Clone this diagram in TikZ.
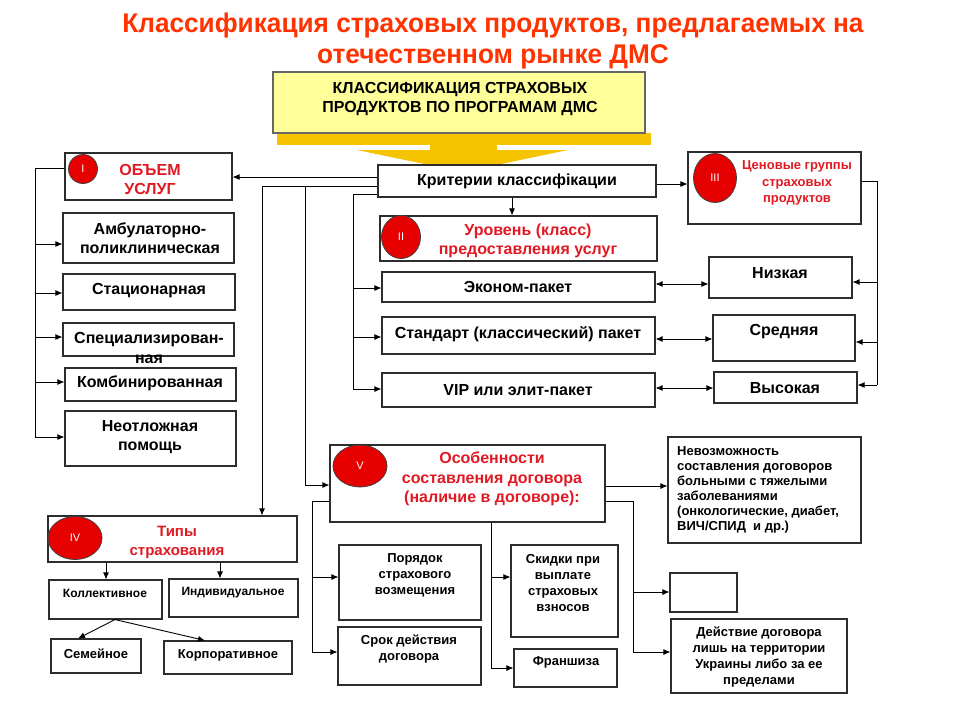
\documentclass[tikz,border=0pt]{standalone}
\usepackage{fontspec}
\setmainfont{Liberation Sans}
\usetikzlibrary{arrows.meta,shapes.geometric}
\definecolor{ttl}{RGB}{255,51,0}
\definecolor{rd}{RGB}{225,25,35}
\definecolor{circ}{RGB}{230,0,0}
\definecolor{yel}{RGB}{255,255,153}
\definecolor{goldc}{RGB}{245,195,0}
\definecolor{edge}{RGB}{45,45,45}
\newcommand\bx[6][]{\node[box,#1,minimum width={#4-#2},minimum height={#5-#3}] (#6) at ({(#2+#4)/2},{(#3+#5)/2}) {};}
\begin{document}
\begin{tikzpicture}[x=1pt,y=-1pt,
  box/.style={draw=edge,line width=1.1pt,fill=white,inner sep=0pt,rectangle},
  txt/.style={align=center,inner sep=0pt,font=\bfseries\fontsize{16}{19.5}\selectfont},
  stxt/.style={align=center,inner sep=0pt,font=\bfseries\fontsize{13}{16}\selectfont},
  rtxt/.style={align=center,inner sep=0pt,text=rd,font=\bfseries\fontsize{16}{19}\selectfont},
  ell/.style={ellipse,draw=black!75,line width=0.8pt,fill=circ,text=white,inner sep=0pt,font=\fontsize{11}{12}\selectfont},
  arr/.style={-{Latex[length=7pt,width=6pt]},line width=0.9pt},
  dbl/.style={{Latex[length=7pt,width=6pt]}-{Latex[length=7pt,width=6pt]},line width=0.9pt},
  ln/.style={line width=0.9pt}]
\useasboundingbox[fill=white] (0,0) rectangle (960,720);
% title
\node[text=ttl,font=\bfseries\fontsize{27}{30}\selectfont] (t1) at (493,26) {\scalebox{0.97}[1]{Классификация страховых продуктов, предлагаемых на}};
\node[text=ttl,font=\bfseries\fontsize{27}{30}\selectfont] (t2) at (493,57) {\scalebox{0.97}[1]{отечественном рынке ДМС}};
% yellow arrow
\fill[goldc] (277,133) rectangle (651,145);
\fill[goldc] (430,144) -- (430,150) -- (357,150) -- (463,172) -- (568,150) -- (497,150) -- (497,144) -- cycle;
\bx[fill=yel,draw=black!60]{273}{72}{645}{133}{ylw}
\node[txt] (ylwt) at (460,99) {КЛАССИФИКАЦИЯ СТРАХОВЫХ\\ПРОДУКТОВ ПО ПРОГРАМАМ ДМС};
% center column
\bx{378}{165}{656}{197}{krit}
\node[txt] (kritt) at (517,181) {Критерии классифікации};
\bx{380}{216}{657}{261}{lvl}
\node[ell,minimum width=39pt,minimum height=43pt] (c2) at (401,237) {II};
\node[rtxt] (lvlt) at (528,241) {Уровень (класс)\\предоставления услуг};
\bx{382}{272}{655}{302}{ekon}
\node[txt] (ekont) at (518,287) {Эконом-пакет};
\bx{382}{317}{655}{354}{stand}
\node[txt] (standt) at (518,334) {Стандарт (классический) пакет};
\bx{382}{373}{655}{407}{vip}
\node[txt] (vipt) at (518,390) {VIP или элит-пакет};
% left column
\bx{65}{153}{232}{200}{obj}
\node[ell,minimum width=29pt,minimum height=29pt] (c1) at (83,169) {I};
\node[rtxt] (objt) at (150,179) {ОБЪЕМ\\УСЛУГ};
\bx{63}{213}{234}{263}{amb}
\node[txt] (ambt) at (150,238) {Амбулаторно-\\поликлиническая};
\bx{63}{274}{235}{310}{stac}
\node[txt] (stact) at (149,291) {Стационарная};
\bx{63}{323}{234}{356}{spec}
\node[txt] (spect) at (149,348) {Специализирован-\\ная};
\bx{65}{368}{236}{401}{komb}
\node[txt] (kombt) at (150,383) {Комбинированная};
\bx{65}{411}{236}{466}{neot}
\node[txt] (neott) at (150,437) {Неотложная\\помощь};
% right column
\bx{688}{152}{861}{224}{cen}
\node[ell,minimum width=43pt,minimum height=49pt] (c3) at (715,178) {III};
\node[rtxt,font=\bfseries\fontsize{13}{16.5}\selectfont] (cent) at (797,183) {Ценовые группы\\страховых\\продуктов};
\bx{709}{257}{852}{298}{niz}
\node[txt] (nizt) at (780,273) {Низкая};
\bx{713}{315}{855}{361}{sred}
\node[txt] (sredt) at (784,332) {Средняя};
\bx{714}{372}{857}{403}{vys}
\node[txt] (vyst) at (785,388) {Высокая};
% bottom middle
\bx{330}{445}{605}{522}{osob}
\node[ell,minimum width=54pt,minimum height=42pt] (c5) at (360,466) {V};
\node[rtxt,font=\bfseries\fontsize{16}{19.5}\selectfont] (osobt) at (492,479) {Особенности\\составления договора\\(наличие в договоре):};
\bx{339}{545}{481}{620}{por}
\node[stxt] (port) at (415,575) {Порядок\\страхового\\возмещения};
\bx{338}{627}{481}{685}{srok}
\node[stxt] (srokt) at (409,649) {Срок действия\\договора};
\bx{511}{545}{618}{637}{skid}
\node[stxt] (skidt) at (563,583) {Скидки при\\выплате\\страховых\\взносов};
\bx{514}{649}{617}{687}{fran}
\node[stxt] (frant) at (566,662) {Франшиза};
\bx{668}{437}{861}{543}{nevoz}
\node[stxt,align=left,anchor=west,font=\bfseries\fontsize{13}{15}\selectfont] (nevozt) at (677,490) {Невозможность\\составления договоров\\больными с тяжелыми\\заболеваниями\\(онкологические, диабет,\\ВИЧ/СПИД \ и др.)};
\bx{670}{573}{737}{612}{empt}
\bx{671}{619}{847}{693}{deist}
\node[stxt] (deistt) at (759,657) {Действие договора\\лишь на территории\\Украины либо за ее\\пределами};
% bottom left
\bx{48}{516}{297}{562}{tipy}
\node[ell,minimum width=54pt,minimum height=43pt] (c4) at (75,538) {IV};
\node[rtxt,font=\bfseries\fontsize{15}{19}\selectfont] (tipyt) at (177,542) {Типы\\страхования};
\bx{49}{580}{162}{619}{koll}
\node[stxt,font=\bfseries\fontsize{12}{14}\selectfont] (kollt) at (105,593) {Коллективное};
\bx{169}{579}{298}{617}{indiv}
\node[stxt,font=\bfseries\fontsize{12}{14}\selectfont] (indivt) at (233,593) {Индивидуальное};
\bx{51}{639}{141}{673}{sem}
\node[stxt] (semt) at (96,654) {Семейное};
\bx{164}{641}{292}{674}{korp}
\node[stxt] (korpt) at (228,655) {Корпоративное};
% connectors
\draw[arr] (krit.west |- 0,177) -- (obj.east |- 0,177);
\draw[arr] (krit.west |- 0,186) -- (262,186) -- (tipy.north -| 262,0);
\draw[arr] (305,186) -- (305,485) -- (osob.west |- 0,485);
\draw[ln] (krit.west |- 0,194) -- (353,194) -- (353,389);
\draw[arr] (353,288) -- (ekon.west |- 0,288);
\draw[arr] (353,337) -- (stand.west |- 0,337);
\draw[arr] (353,389) -- (vip.west |- 0,389);
\draw[arr] (krit.south -| 512,0) -- (lvl.north -| 512,0);
\draw[arr] (krit.east |- 0,184) -- (cen.west |- 0,184);
\draw[dbl] (ekon.east |- 0,284) -- (niz.west |- 0,284);
\draw[dbl] (stand.east |- 0,339) -- (sred.west |- 0,339);
\draw[dbl] (vip.east |- 0,388) -- (vys.west |- 0,388);
\draw[ln] (cen.east |- 0,181) -- (877,181) -- (877,385);
\draw[arr] (877,282) -- (niz.east |- 0,282);
\draw[arr] (877,342) -- (sred.east |- 0,342);
\draw[arr] (877,385) -- (vys.east |- 0,385);
\draw[ln] (obj.west |- 0,168) -- (35,168) -- (35,437);
\draw[arr] (35,244) -- (amb.west |- 0,244);
\draw[arr] (35,293) -- (stac.west |- 0,293);
\draw[arr] (35,337) -- (spec.west |- 0,337);
\draw[arr] (35,382) -- (komb.west |- 0,382);
\draw[arr] (35,437) -- (neot.west |- 0,437);
\draw[arr] (tipy.south -| 106,0) -- (koll.north -| 106,0);
\draw[arr] (tipy.south -| 220,0) -- (indiv.north -| 220,0);
\draw[arr] (koll.south -| 115,0) -- (sem.north -| 78,0);
\draw[arr] (koll.south -| 115,0) -- (korp.north -| 205,0);
\draw[ln] (osob.west |- 0,501) -- (312,501) -- (312,652);
\draw[arr] (312,577) -- (por.west |- 0,577);
\draw[arr] (312,652) -- (srok.west |- 0,652);
\draw[ln] (osob.south -| 491,0) -- (491,668);
\draw[arr] (491,577) -- (skid.west |- 0,577);
\draw[arr] (491,668) -- (fran.west |- 0,668);
\draw[arr] (osob.east |- 0,486) -- (nevoz.west |- 0,486);
\draw[ln] (osob.east |- 0,501) -- (633,501) -- (633,652);
\draw[arr] (633,592) -- (empt.west |- 0,592);
\draw[arr] (633,652) -- (deist.west |- 0,652);
\end{tikzpicture}
\end{document}
